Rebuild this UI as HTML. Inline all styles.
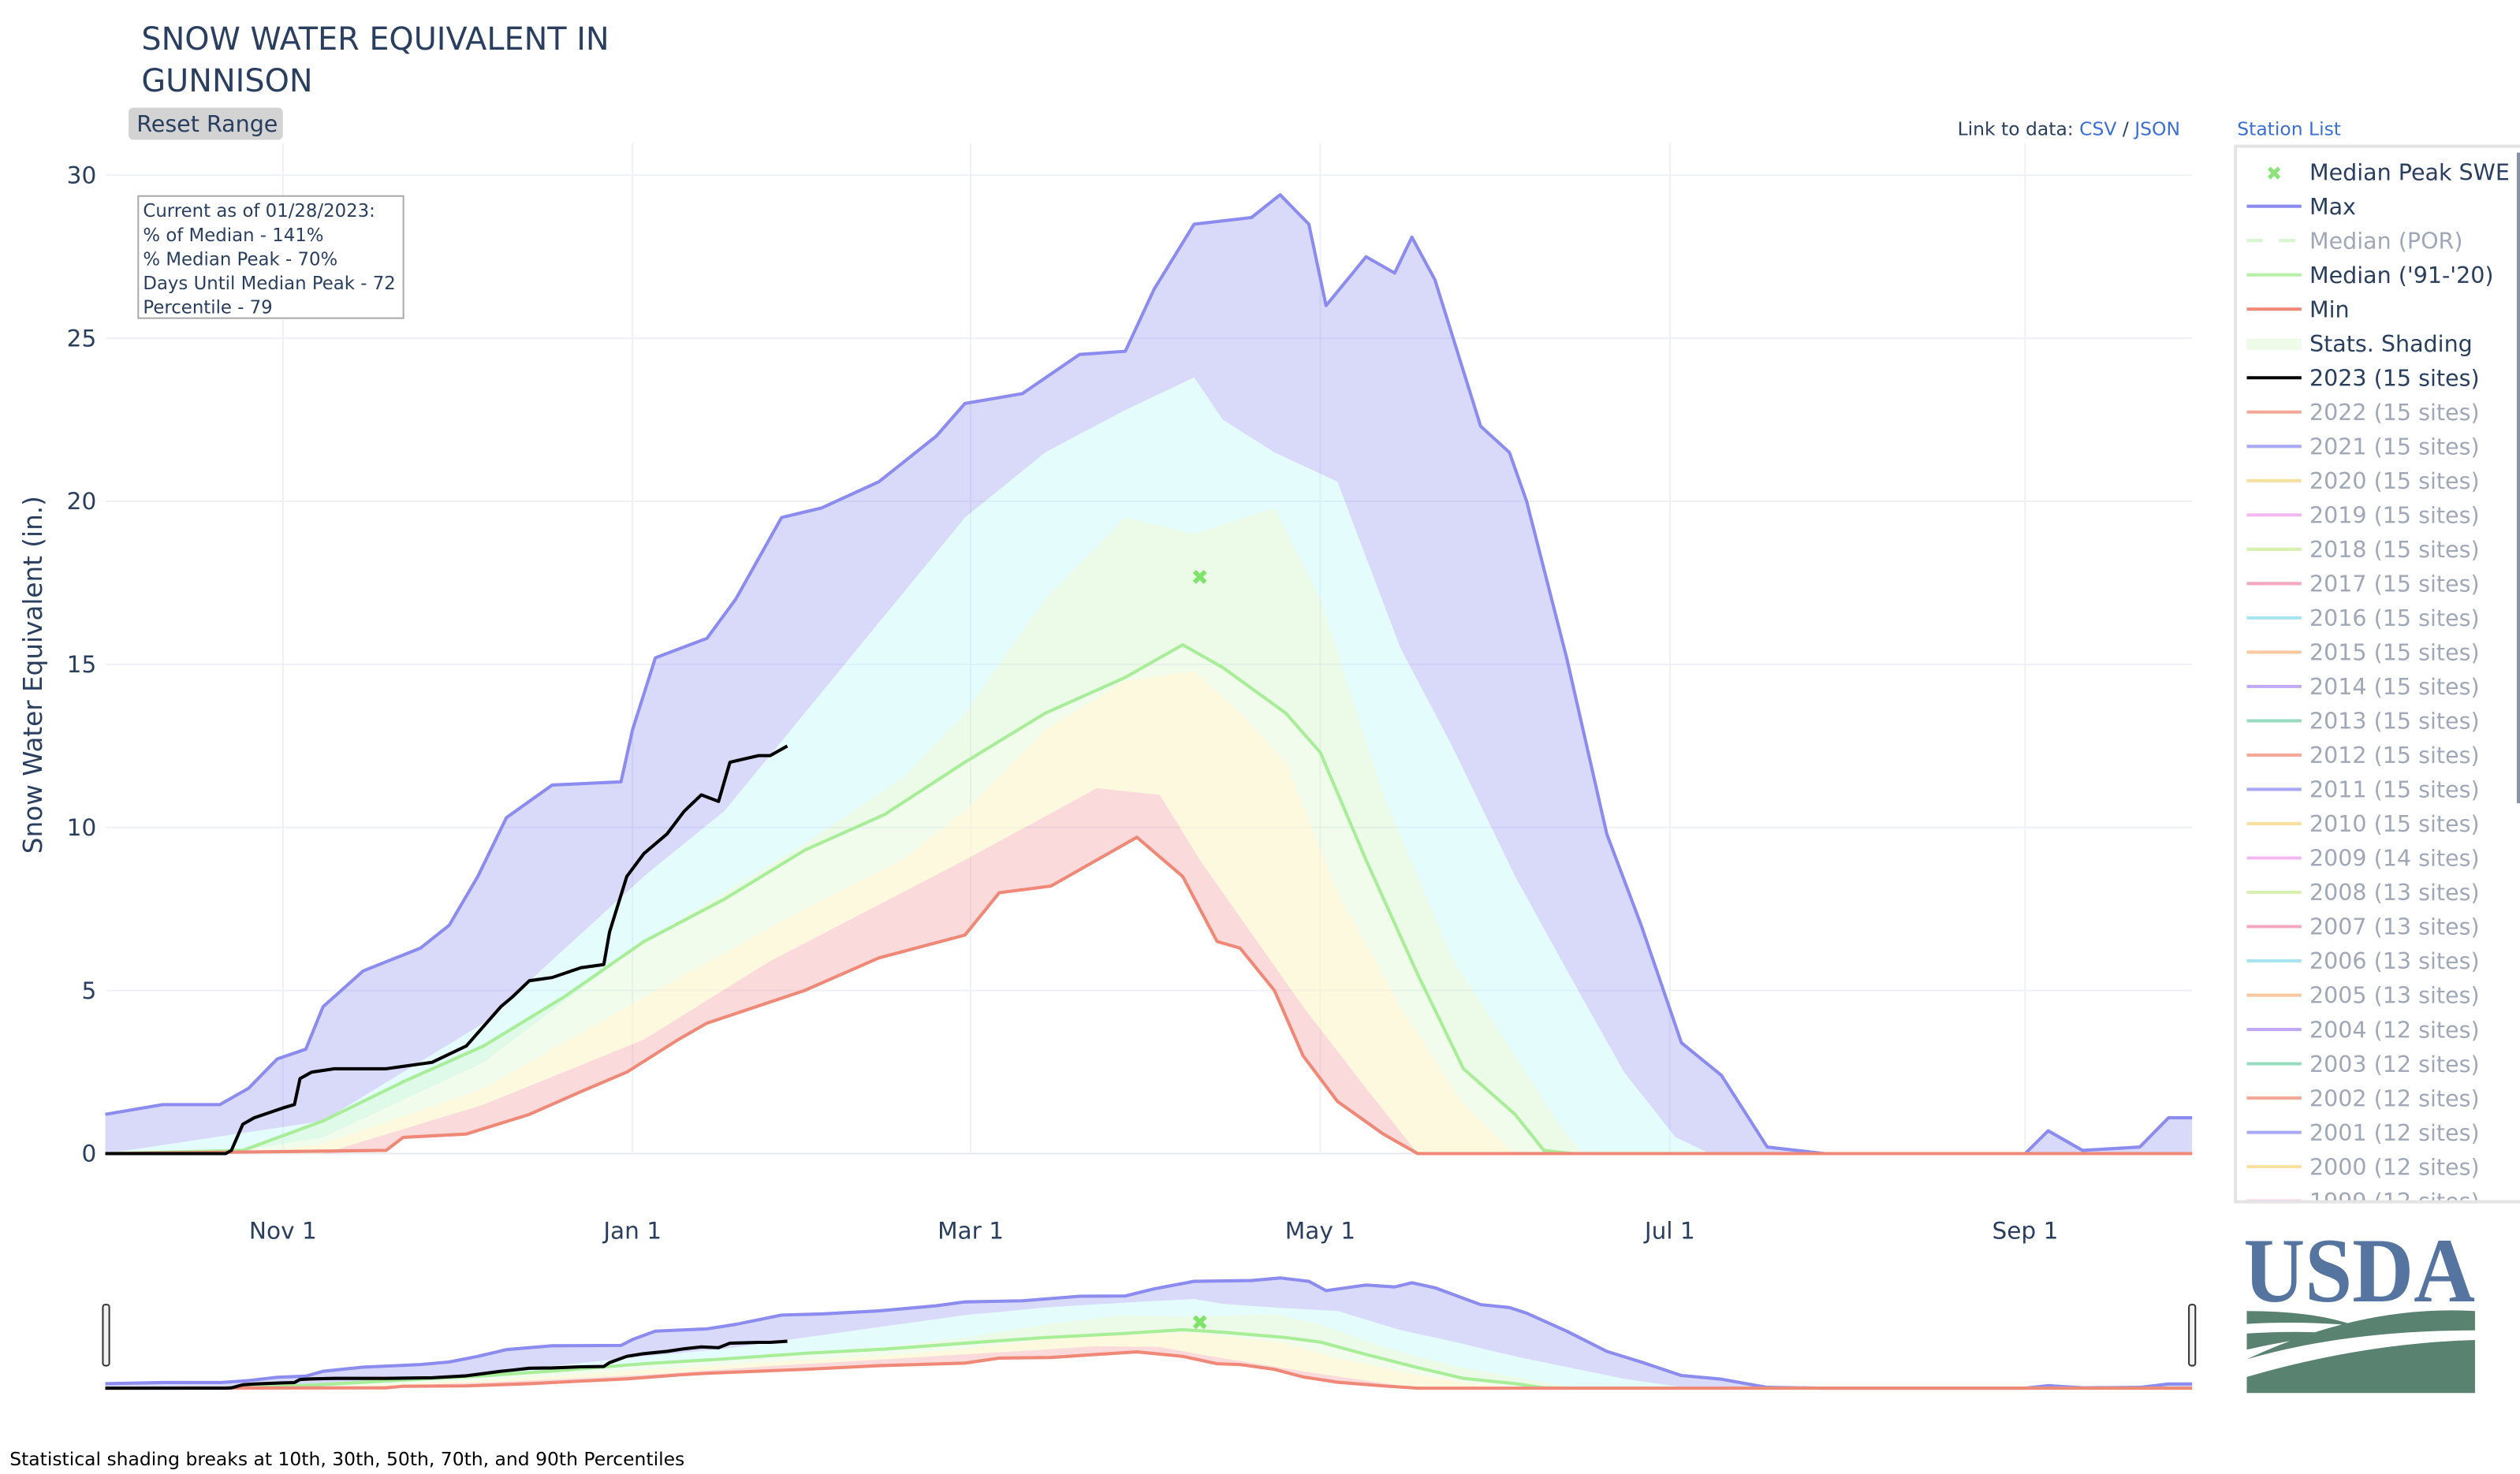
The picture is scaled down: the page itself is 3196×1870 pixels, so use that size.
<!DOCTYPE html>
<html><head><meta charset="utf-8"><style>
html,body{margin:0;padding:0;background:#fff;}
svg{display:block;font-family:"DejaVu Sans","Liberation Sans",sans-serif;}
</style></head><body>
<svg id="chart" width="3196" height="1870" viewBox="0 0 1568 917.4" xmlns="http://www.w3.org/2000/svg">
<text x="88" y="31" font-size="19.5" fill="#2a3f5f">SNOW WATER EQUIVALENT IN</text>
<text x="88" y="57" font-size="19.5" fill="#2a3f5f">GUNNISON</text>
<g><rect x="80" y="67" width="96" height="20" rx="3" fill="#d3d3d3"/><text x="85" y="82" font-size="14" fill="#2a3f5f">Reset Range</text></g>
<text x="1218" y="84" font-size="11.5" fill="#2a3f5f">Link to data: <tspan fill="#3b6fd6">CSV</tspan> / <tspan fill="#3b6fd6">JSON</tspan></text>
<text x="1392" y="84" font-size="11.5" fill="#3b6fd6">Station List</text>
<g id="grid"></g>
<g id="bands"></g>
<g id="lines"></g>
<g id="nav"></g>
<g id="axes"></g>
<g>
<rect x="86" y="122" width="165" height="76" fill="#fff" stroke="#aaa" stroke-width="1"/>
<text x="89" y="135" font-size="11.2" fill="#2a3f5f">Current as of 01/28/2023:</text>
<text x="89" y="150" font-size="11.2" fill="#2a3f5f">% of Median - 141%</text>
<text x="89" y="165" font-size="11.2" fill="#2a3f5f">% Median Peak - 70%</text>
<text x="89" y="180" font-size="11.2" fill="#2a3f5f">Days Until Median Peak - 72</text>
<text x="89" y="195" font-size="11.2" fill="#2a3f5f">Percentile - 79</text>
</g>
<text transform="translate(26,420) rotate(-90)" text-anchor="middle" font-size="16" fill="#2a3f5f">Snow Water Equivalent (in.)</text>
<g id="legend"></g>
<g>
<text x="1468" y="810" text-anchor="middle" font-family="Liberation Serif,serif" font-weight="bold" font-size="57" fill="#5575a0" textLength="144" lengthAdjust="spacingAndGlyphs">USDA</text>
<path d="M1398 816 Q1440 816 1465 825 Q1430 822 1398 824Z M1398 830 Q1430 828 1455 830 Q1425 834 1398 840Z M1398 846 Q1470 812 1540 816 L1540 828 Q1460 828 1398 846Z M1398 857 Q1470 836 1540 834 L1540 867 L1398 867Z" fill="#5a8270"/>
</g>
<text x="6" y="912" font-size="11.5" fill="#000">Statistical shading breaks at 10th, 30th, 50th, 70th, and 90th Percentiles</text>
</svg>
<script>
const maxDays=[0,10,20,25,30,35,38,45,55,60,65,70,78,90,92,96,105,110,118,125,135,145,150,160,170,178,183,190,200,205,210,213,220,225,228,232,240,245,248,255,262,268,275,282,290,300,335,339,345,355,360,365];
const maxVals=[1.2,1.5,1.5,2.0,2.9,3.2,4.5,5.6,6.3,7.0,8.5,10.3,11.3,11.4,13.0,15.2,15.8,17.0,19.5,19.8,20.6,22.0,23.0,23.3,24.5,24.6,26.5,28.5,28.7,29.4,28.5,26.0,27.5,27.0,28.1,26.8,22.3,21.5,20.0,15.2,9.8,7.0,3.4,2.4,0.2,0,0,0.7,0.1,0.2,1.1,1.1];
const p90Days=[0,38,66,94,108,122,136,150,164,178,190,195,204,215,226,235,246,257,265,274,280,365];
const p90Vals=[0,1.0,4.0,8.5,10.5,13.5,16.5,19.5,21.5,22.8,23.8,22.5,21.5,20.6,15.5,12.5,8.5,5.0,2.5,0.5,0,0];
const p70Days=[0,20,38,66,94,122,139,150,164,178,190,204,212,223,235,246,254,258,365];
const p70Vals=[0,0,0.5,2.8,6.5,9.5,11.5,13.5,17.0,19.5,19.0,19.8,17.0,11.0,6.0,3.0,0.8,0,0];
const medDays=[0,24,38,52,66,80,94,108,122,136,150,164,178,188,195,206,212,220,229,237,246,251,256,365];
const medVals=[0,0.1,1.0,2.2,3.3,4.8,6.5,7.8,9.3,10.4,12.0,13.5,14.6,15.6,14.9,13.5,12.3,9.0,5.5,2.6,1.2,0.1,0,0];
const p30Days=[0,25,38,66,94,122,139,150,164,178,190,198,206,215,226,237,246,365];
const p30Vals=[0,0,0.3,2.0,4.8,7.5,9.0,10.5,13.0,14.5,14.8,13.5,12.0,8.0,4.5,1.5,0,0];
const p10Days=[0,38,66,94,116,150,173,184,191,199,209,220,229,365];
const p10Vals=[0,0,1.5,3.5,5.9,9.0,11.2,11.0,9.0,7.0,4.5,2.0,0,0];
const minDays=[0,49,52,63,74,83,91,100,105,122,135,150,156,165,173,180,188,194,198,204,209,215,223,229,365];
const minVals=[0,0.1,0.5,0.6,1.2,1.9,2.5,3.5,4.0,5.0,6.0,6.7,8.0,8.2,9.0,9.7,8.5,6.5,6.3,5.0,3.0,1.6,0.6,0,0];
const curDays=[0,21,22,24,26,31,33,34,36,40,49,57,63,66,69,71,74,78,83,87,88,91,94,98,101,104,107,109,114,116,119];
const curVals=[0,0,0.1,0.9,1.1,1.4,1.5,2.3,2.5,2.6,2.6,2.8,3.3,3.9,4.5,4.8,5.3,5.4,5.7,5.8,6.8,8.5,9.2,9.8,10.5,11.0,10.8,12.0,12.2,12.2,12.5];
const peakDay=[191];
const peakVal=[17.7];
const yTicks=[0,5,10,15,20,25,30];
const xTickDays=[31,92,151,212,273,335];
const xTickLabels=["Nov  1","Jan  1","Mar  1","May  1","Jul  1","Sep  1"];
const legendNames=["Median Peak SWE","Max","Median (POR)","Median ('91-'20)","Min","Stats. Shading","2023 (15 sites)","2022 (15 sites)","2021 (15 sites)","2020 (15 sites)","2019 (15 sites)","2018 (15 sites)","2017 (15 sites)","2016 (15 sites)","2015 (15 sites)","2014 (15 sites)","2013 (15 sites)","2012 (15 sites)","2011 (15 sites)","2010 (15 sites)","2009 (14 sites)","2008 (13 sites)","2007 (13 sites)","2006 (13 sites)","2005 (13 sites)","2004 (12 sites)","2003 (12 sites)","2002 (12 sites)","2001 (12 sites)","2000 (12 sites)","1999 (12 sites)"];
const legendColors=["#8be37a","#8b8bf0","#d8f5d0","#b8f0a8","#f08878","#eefbe8","#000","#f4a898","#a8a8f4","#f8e0a0","#f4b8f0","#d8f0b0","#f4a8c0","#a8e4f0","#f8c8a0","#c0a8f4","#98dcc0","#f4a898","#a8a8f4","#f8e0a0","#f4b8f0","#d8f0b0","#f4a8c0","#a8e4f0","#f8c8a0","#c0a8f4","#98dcc0","#f4a898","#a8a8f4","#f8e0a0","#f4c8e8"];
const legendActive=[1,1,0,1,1,1,1,0,0,0,0,0,0,0,0,0,0,0,0,0,0,0,0,0,0,0,0,0,0,0,0];

const NS="http://www.w3.org/2000/svg";
const X0=66,X1=1364,Y0=718,Y30=109;
const PX_DAY=3.566, XOFF=65.5;
const xs=d=>Math.min(X1,XOFF+d*PX_DAY);
const ys=v=>Y0-v*(Y0-Y30)/30;
const NY0=864,NY30=794;
const nys=v=>NY0-v*(NY0-NY30)/30;
function mk(tag,attrs,parent){const e=document.createElementNS(NS,tag);for(const k in attrs)e.setAttribute(k,attrs[k]);parent.appendChild(e);return e;}
function interp(days,vals,d){if(d<=days[0])return vals[0];for(let i=1;i<days.length;i++){if(d<=days[i]){const t=(d-days[i-1])/(days[i]-days[i-1]);return vals[i-1]+t*(vals[i]-vals[i-1]);}}return vals[vals.length-1];}
function linePts(days,vals,fy){return days.map((d,i)=>xs(d).toFixed(1)+","+fy(vals[i]).toFixed(1)).join(" ");}
function bandPath(dA,vA,dB,vB,fy){const set=[...new Set([...dA,...dB])].sort((a,b)=>a-b);let s="M";s+=set.map(d=>xs(d).toFixed(1)+","+fy(interp(dA,vA,d)).toFixed(1)).join(" L");s+=" L"+set.slice().reverse().map(d=>xs(d).toFixed(1)+","+fy(Math.min(interp(dB,vB,d),interp(dA,vA,d))).toFixed(1)).join(" L")+"Z";return s;}

const grid=document.getElementById('grid');
const axes=document.getElementById('axes');
yTicks.forEach(t=>{
  const l=mk('line',{x1:X0,x2:X1,y1:ys(t),y2:ys(t),stroke:t===0?'#e6e9f2':'#eef0f7','stroke-width':1},grid);
  
  
  const tx=mk('text',{x:60,y:ys(t)+5,'text-anchor':'end','font-size':14.5,fill:'#2a3f5f'},axes);
  tx.textContent=t;
  
  
});
xTickDays.forEach((d,i)=>{
  const l=mk('line',{x1:xs(d),x2:xs(d),y1:89,y2:Y0,stroke:'#eef0f7','stroke-width':1},grid);
  
  
  const tx=mk('text',{x:xs(d),y:771,'text-anchor':'middle','font-size':14.5,fill:'#2a3f5f','xml:space':'preserve'},axes);
  tx.textContent=xTickLabels[i];
  
  
});

function drawAll(g,fy){
  const bands=[
    [maxDays,maxVals,p90Days,p90Vals,'rgba(140,140,240,0.33)','band-max-90'],
    [p90Days,p90Vals,p70Days,p70Vals,'rgba(180,245,245,0.35)','band-90-70'],
    [p70Days,p70Vals,medDays,medVals,'rgba(200,240,190,0.35)','band-70-50'],
    [medDays,medVals,p30Days,p30Vals,'rgba(215,245,200,0.35)','band-50-30'],
    [p30Days,p30Vals,p10Days,p10Vals,'rgba(250,245,200,0.6)','band-30-10'],
    [p10Days,p10Vals,minDays,minVals,'rgba(240,150,150,0.35)','band-10-min']
  ];
  bands.forEach(b=>{
    const p=mk('path',{d:bandPath(b[0],b[1],b[2],b[3],fy),fill:b[4],stroke:'none'},g);
    
    
  });
  const lines=[[maxDays,maxVals,'#8b8bf0',2,'max-line'],[medDays,medVals,'#a8ee98',2,'median-line'],[minDays,minVals,'#f08878',2,'min-line'],[curDays,curVals,'#000',2,'current-year-line']];
  lines.forEach(L=>{
    const p=mk('polyline',{points:linePts(L[0],L[1],fy),fill:'none',stroke:L[2],'stroke-width':L[3],'stroke-linejoin':'round'},g);
    
    
  });
  peakDay.forEach((d,i)=>{
    const t=mk('text',{x:xs(d),y:fy(peakVal[i])+5,'text-anchor':'middle','font-size':13,'font-weight':'bold',fill:'#7de36a'},g);
    t.textContent='✖';
    
    
  });
}
drawAll(document.getElementById('lines'),ys);
const nav=document.getElementById('nav');


drawAll(nav,nys);
[X0-2,X1-2].forEach(x=>{
  const h=mk('rect',{x:x,y:812,width:4,height:38,rx:1.5,fill:'#f2f2f2',stroke:'#333','stroke-width':1},nav);
  
  
});

const lg=document.getElementById('legend');
mk('rect',{x:1391,y:91,width:190,height:657,fill:'#fff',stroke:'#e4e4e4','stroke-width':2},lg);
mk('line',{x1:1567,x2:1567,y1:95,y2:500,stroke:'#8a93a6','stroke-width':2},lg);
const cp=mk('clipPath',{id:'lgclip'},lg);mk('rect',{x:1392,y:92,width:176,height:655},cp);
const lgi=mk('g',{'clip-path':'url(#lgclip)'},lg);
legendNames.forEach((n,i)=>{
  const y=107+i*21.35;
  const g=mk('g',{},lgi);
  
  
  if(i===0){const t=mk('text',{x:1415,y:y+5,'text-anchor':'middle','font-size':12,'font-weight':'bold',fill:legendColors[i]},g);t.textContent='✖';}
  else if(i===5){mk('rect',{x:1398,y:y-3,width:34,height:7,fill:legendColors[i]},g);}
  else if(i===2){mk('line',{x1:1398,x2:1432,y1:y,y2:y,stroke:legendColors[i],'stroke-width':2,'stroke-dasharray':'10,10'},g);}
  else mk('line',{x1:1398,x2:1432,y1:y,y2:y,stroke:legendColors[i],'stroke-width':2},g);
  const t=mk('text',{x:1437,y:y+5,'font-size':14,fill:legendActive[i]?'#2a3f5f':'#a0a8b8'},g);
  t.textContent=n;
});
</script>
</body></html>
